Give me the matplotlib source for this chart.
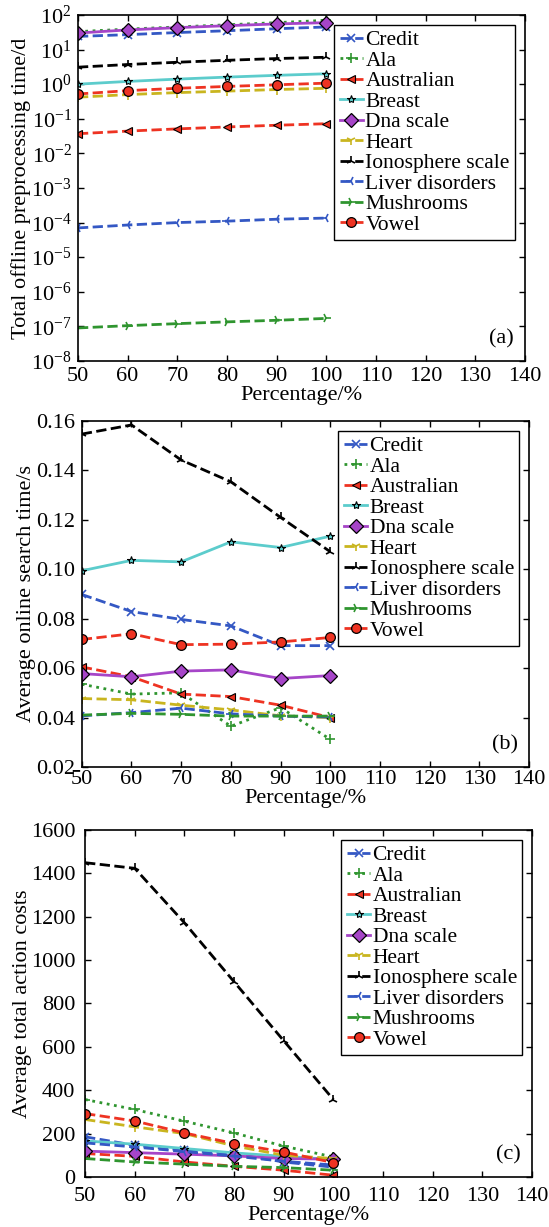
import numpy as np
import matplotlib
matplotlib.use("Agg")
import matplotlib.pyplot as plt

plt.rcParams['font.family'] = ['Liberation Serif', 'DejaVu Serif']
plt.rcParams['mathtext.fontset'] = 'stix'
plt.rcParams['xtick.direction'] = 'in'
plt.rcParams['ytick.direction'] = 'in'
plt.rcParams['xtick.top'] = True
plt.rcParams['ytick.right'] = True

pct = [50, 60, 70, 80, 90, 100]
names = ['Credit', 'Ala', 'Australian', 'Breast', 'Dna scale', 'Heart',
         'Ionosphere scale', 'Liver disorders', 'Mushrooms', 'Vowel']

# (a) total offline preprocessing time / d
offline = {
    'Credit': [24, 27, 31, 35, 40, 45],
    'Ala': [33, 39, 45, 52, 60, 70],
    'Australian': [0.037, 0.044, 0.051, 0.058, 0.065, 0.072],
    'Breast': [1.0, 1.2, 1.4, 1.6, 1.8, 2.0],
    'Dna scale': [30, 37, 43, 49, 55, 60],
    'Heart': [0.42, 0.50, 0.57, 0.63, 0.70, 0.76],
    'Ionosphere scale': [3.1, 3.7, 4.3, 4.9, 5.5, 6.0],
    'Liver disorders': [7e-5, 8.5e-5, 1.0e-4, 1.1e-4, 1.25e-4, 1.35e-4],
    'Mushrooms': [9e-8, 1.05e-7, 1.2e-7, 1.35e-7, 1.5e-7, 1.7e-7],
    'Vowel': [0.52, 0.65, 0.76, 0.86, 0.96, 1.07],
}

# (b) average online search time / s
online = {
    'Credit': [0.0898, 0.0829, 0.0797, 0.0771, 0.0691, 0.0691],
    'Ala': [0.0535, 0.0495, 0.0500, 0.0365, 0.0440, 0.0312],
    'Australian': [0.0605, 0.0565, 0.0495, 0.0485, 0.0450, 0.0400],
    'Breast': [0.0994, 0.1036, 0.1030, 0.1111, 0.1088, 0.1134],
    'Dna scale': [0.0578, 0.0565, 0.0588, 0.0593, 0.0558, 0.0570],
    'Heart': [0.0477, 0.0472, 0.0450, 0.0431, 0.0407, 0.0400],
    'Ionosphere scale': [0.1547, 0.1584, 0.1442, 0.1354, 0.1210, 0.1071],
    'Liver disorders': [0.0407, 0.0420, 0.0438, 0.0415, 0.0406, 0.0402],
    'Mushrooms': [0.0410, 0.0417, 0.0413, 0.0406, 0.0406, 0.0406],
    'Vowel': [0.0716, 0.0739, 0.0695, 0.0697, 0.0706, 0.0724],
}

# (c) average total action costs
costs = {
    'Credit': [185, 146, 123, 108, 69, 45],
    'Ala': [357, 311, 257, 203, 142, 92],
    'Australian': [108, 95, 69, 49, 31, 8],
    'Breast': [166, 151, 131, 111, 95, 80],
    'Dna scale': [119, 112, 105, 97, 85, 82],
    'Heart': [265, 231, 200, 143, 100, 85],
    'Ionosphere scale': [1449, 1423, 1172, 900, 628, 357],
    'Liver disorders': [157, 138, 117, 96, 72, 55],
    'Mushrooms': [85, 69, 59, 49, 43, 31],
    'Vowel': [292, 258, 203, 154, 115, 66],
}

blue = '#3458c4'
green = '#2f952f'
red = '#ee3322'
styles = {
    'Credit': dict(color=blue, ls='--', marker='x', ms=6, mew=1.2),
    'Ala': dict(color=green, ls=':', marker='+', ms=7, mew=1.2),
    'Australian': dict(color=red, ls='--', marker='<', ms=6, mfc=red, mec='k', mew=0.8),
    'Breast': dict(color='#5ccccc', ls='-', marker='*', ms=6, mfc='#5ccccc', mec='k', mew=0.8),
    'Dna scale': dict(color='#a645c8', ls='-', marker='D', ms=7, mfc='#a645c8', mec='k', mew=0.9),
    'Heart': dict(color='#c9b51f', ls='--', marker='1', ms=7, mew=1.2),
    'Ionosphere scale': dict(color='k', ls='--', marker='2', ms=7, mew=1.2),
    'Liver disorders': dict(color=blue, ls='--', marker='3', ms=7, mew=1.2),
    'Mushrooms': dict(color=green, ls='--', marker='4', ms=7, mew=1.2),
    'Vowel': dict(color=red, ls='--', marker='o', ms=7, mfc=red, mec='k', mew=0.9),
}

fig = plt.figure(figsize=(5.49, 12.27), dpi=100)
ax_a = fig.add_axes([0.142, 0.7058, 0.814, 0.282])
ax_b = fig.add_axes([0.149, 0.3749, 0.8146, 0.282])
ax_c = fig.add_axes([0.155, 0.0408, 0.814, 0.2828])

# axis, data, y label, tag, x tick pad, y tick pad, y label pad
panels = [(ax_a, offline, 'Total offline preprocessing time/d', '(a)', 4.5, 4.5, 0),
          (ax_b, online, 'Average online search time/s', '(b)', 2.5, 5, 0),
          (ax_c, costs, 'Average total action costs', '(c)', 7, 7, -1)]

for ax, data, ylab, tag, xpad, ypad, lpad in panels:
    for n in names:
        ax.plot(pct, data[n], label=n, lw=2, **styles[n])
    ax.set_xlim(50, 140)
    ax.set_xticks(range(50, 141, 10))
    ax.set_xlabel('Percentage/%', fontsize=16, labelpad=0)
    ax.set_ylabel(ylab, fontsize=16, labelpad=lpad)
    ax.tick_params(labelsize=16, width=1, length=4)
    ax.tick_params(axis='x', pad=xpad)
    ax.tick_params(axis='y', pad=ypad)
    ax.tick_params(which='minor', length=2)
    for s in ax.spines.values():
        s.set_linewidth(1.2)
    ax.text(0.975, 0.035, tag, transform=ax.transAxes, ha='right', va='bottom', fontsize=16)
    leg = ax.legend(loc='upper right', fontsize=15.5, frameon=True, fancybox=False,
                    edgecolor='k', framealpha=1, labelspacing=0.02, handlelength=1.1,
                    handletextpad=0.1, borderpad=0.25, borderaxespad=0.45)
    leg.get_frame().set_linewidth(1.0)

ax_a.set_yscale('log')
ax_a.set_ylim(1e-8, 1e2)
ax_a.set_yticks([10.0 ** k for k in range(-8, 3)])

ax_b.set_ylim(0.02, 0.16)
ax_b.set_yticks(np.arange(0.02, 0.161, 0.02))
ax_b.set_yticklabels(['%.2f' % v for v in np.arange(0.02, 0.161, 0.02)])

ax_c.set_ylim(0, 1600)
ax_c.set_yticks(range(0, 1601, 200))

fig.savefig('out.png', dpi=100)
